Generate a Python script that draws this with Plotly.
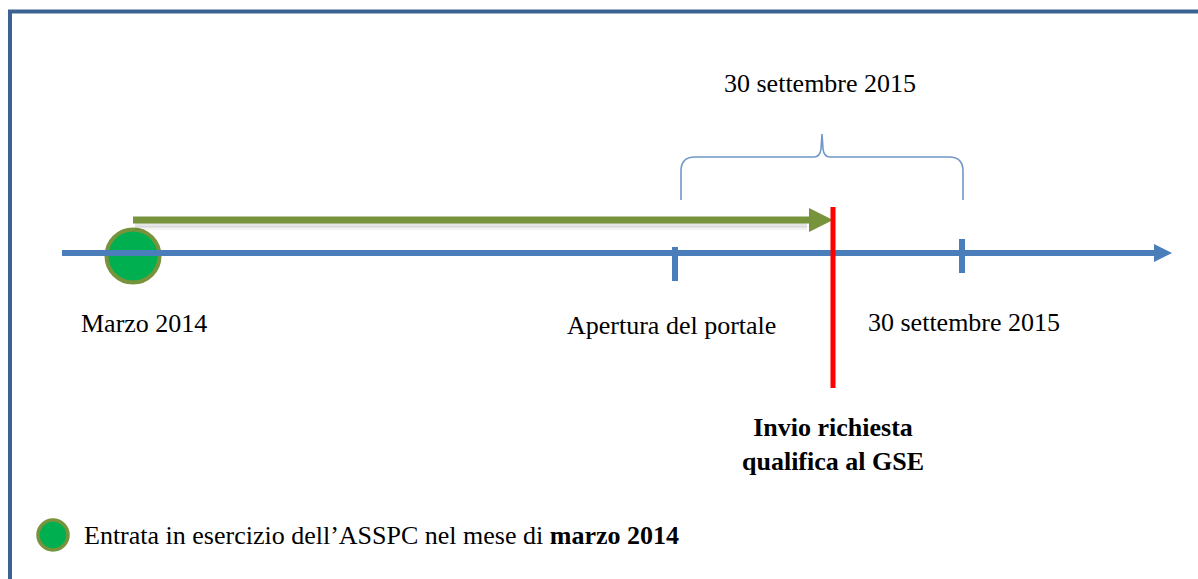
import plotly.graph_objects as go

# ---- data (diagram coordinates, page-pixel units) ----
event_labels = ["Marzo 2014", "Apertura del portale", "30 settembre 2015"]
event_x = [133, 675, 962]
label_x = [144, 671, 964]
label_y = [323, 325, 322]
tick_top = [247, 247, 239]
tick_bottom = [281, 281, 273]

axis_start, axis_end, axis_y = 62, 1172, 253
arrow_start, arrow_end, arrow_y = 133, 833, 220
deadline_x, deadline_top, deadline_bottom = 833, 207, 388
deadline_label = "<b>Invio richiesta<br>qualifica al GSE</b>"
deadline_label_xy = (833, 444)

brace_left, brace_right, brace_top, brace_tip, brace_bottom = 681, 963, 157, 134, 200
brace_mid = 822
brace_title = "30 settembre 2015"
brace_title_xy = (820, 83)

legend_marker_xy = (53, 535)
legend_text = "Entrata in esercizio dell\u2019ASSPC nel mese di <b>marzo 2014</b>"
legend_text_x = 82

W, H = 1198, 579
BLUE = "#4A7EBB"
GREEN_LINE = "#77933C"
GREEN_FILL = "#00B050"
FONT = "Liberation Serif"

fig = go.Figure()
shapes = []

# frame
shapes.append(dict(type="rect", x0=10, y0=11.5, x1=W + 20, y1=H + 20,
                   line=dict(color="#3B6291", width=4), layer="below"))

# main timeline axis
shapes.append(dict(type="line", x0=axis_start, y0=axis_y, x1=axis_end - 14, y1=axis_y,
                   line=dict(color=BLUE, width=6)))
shapes.append(dict(type="path",
                   path=f"M {axis_end-18},{axis_y-9} L {axis_end},{axis_y} L {axis_end-18},{axis_y+9} Z",
                   fillcolor=BLUE, line=dict(width=0)))

# tick marks
for x, t, b in zip(event_x[1:], tick_top[1:], tick_bottom[1:]):
    shapes.append(dict(type="line", x0=x, y0=t, x1=x, y1=b,
                       line=dict(color=BLUE, width=6)))

# green arrow shadow
shapes.append(dict(type="line", x0=arrow_start + 2, y0=arrow_y + 5, x1=arrow_end - 26, y1=arrow_y + 5,
                   line=dict(color="rgba(0,0,0,0.10)", width=5)))
shapes.append(dict(type="line", x0=arrow_start + 2, y0=arrow_y + 8, x1=arrow_end - 26, y1=arrow_y + 8,
                   line=dict(color="rgba(0,0,0,0.05)", width=4)))
# green arrow
shapes.append(dict(type="line", x0=arrow_start, y0=arrow_y, x1=arrow_end - 20, y1=arrow_y,
                   line=dict(color=GREEN_LINE, width=7)))
shapes.append(dict(type="path",
                   path=f"M {arrow_end-24},{arrow_y-12} L {arrow_end},{arrow_y} L {arrow_end-24},{arrow_y+12} Z",
                   fillcolor=GREEN_LINE, line=dict(width=0)))

# red deadline line
shapes.append(dict(type="line", x0=deadline_x, y0=deadline_top, x1=deadline_x, y1=deadline_bottom,
                   line=dict(color="#FF0000", width=5)))

# brace
bl, br, bt, bm, tip, bb = brace_left, brace_right, brace_top, brace_mid, brace_tip, brace_bottom
brace_path = (f"M {bl},{bb} L {bl},{bt+14} Q {bl},{bt} {bl+14},{bt} "
              f"L {bm-8},{bt} Q {bm-2},{bt} {bm-1},{bt-8} L {bm},{tip} "
              f"L {bm+1},{bt-8} Q {bm+2},{bt} {bm+8},{bt} "
              f"L {br-14},{bt} Q {br},{bt} {br},{bt+14} L {br},{bb}")
shapes.append(dict(type="path", path=brace_path, line=dict(color="#7097C8", width=1.6)))

# circle marker at Marzo 2014
fig.add_trace(go.Scatter(x=[event_x[0]], y=[axis_y + 3], mode="markers",
                         marker=dict(size=53, color=GREEN_FILL,
                                     line=dict(color=GREEN_LINE, width=4)),
                         hoverinfo="skip", showlegend=False))
# legend marker
fig.add_trace(go.Scatter(x=[legend_marker_xy[0]], y=[legend_marker_xy[1]], mode="markers",
                         marker=dict(size=30, color=GREEN_FILL,
                                     line=dict(color=GREEN_LINE, width=3.5)),
                         hoverinfo="skip", showlegend=False))

annotations = []
for lab, x, y in zip(event_labels, label_x, label_y):
    annotations.append(dict(x=x, y=y, text=lab, showarrow=False, xanchor="center", yanchor="middle",
                            font=dict(family=FONT, size=26, color="#000")))
annotations.append(dict(x=brace_title_xy[0], y=brace_title_xy[1], text=brace_title, showarrow=False,
                        xanchor="center", yanchor="middle",
                        font=dict(family=FONT, size=26, color="#000")))
annotations.append(dict(x=deadline_label_xy[0], y=deadline_label_xy[1], text=deadline_label,
                        showarrow=False, xanchor="center", yanchor="middle",
                        font=dict(family=FONT, size=26, color="#000")))
annotations.append(dict(x=legend_text_x, y=legend_marker_xy[1], text=legend_text, showarrow=False,
                        xanchor="left", yanchor="middle",
                        font=dict(family=FONT, size=26, color="#000")))

fig.update_layout(
    width=W, height=H,
    margin=dict(l=0, r=0, t=0, b=0),
    paper_bgcolor="white", plot_bgcolor="white",
    xaxis=dict(range=[0, W], visible=False, fixedrange=True),
    yaxis=dict(range=[H, 0], visible=False, fixedrange=True),
    shapes=shapes, annotations=annotations,
    showlegend=False,
)

fig.write_html("out.html", post_script="document.body.style.margin='0';",
               config={"displayModeBar": False})
